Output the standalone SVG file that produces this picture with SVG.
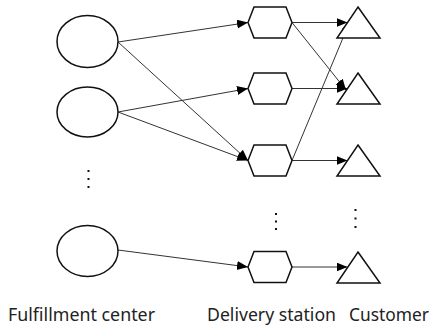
<svg xmlns="http://www.w3.org/2000/svg" width="433" height="328" viewBox="0 0 433 328">
  <style>
    .node { fill: #ffffff; stroke: #111111; stroke-width: 1.5; }
    .edge { fill: none; stroke: #333333; stroke-width: 1; marker-end: url(#arrow); }
    .dot { fill: #111111; }
    .label { font-family: "Noto Sans", "Liberation Sans", sans-serif; font-size: 18px; fill: #222222; }
  </style>
  <defs>
    <marker id="arrow" markerUnits="userSpaceOnUse" markerWidth="12" markerHeight="10" refX="11" refY="4.5" orient="auto">
      <path d="M0,0 L11,4.5 L0,9 Z" fill="#000000"/>
    </marker>
    <polygon id="hex" points="-22,0 -16,-15.5 16,-15.5 22,0 16,15.5 -16,15.5"/>
    <polygon id="tri" points="0,-15.5 22,15.5 -21,15.5"/>
  </defs>

  <!-- connectors -->
  <g id="connectors">
    <line class="edge" x1="118" y1="42" x2="248" y2="22.5"/>
    <line class="edge" x1="118" y1="42" x2="248" y2="160.5"/>
    <line class="edge" x1="118" y1="112" x2="248" y2="88.5"/>
    <line class="edge" x1="118" y1="112" x2="248" y2="160.5"/>
    <line class="edge" x1="118" y1="250" x2="248" y2="267"/>
    <line class="edge" x1="292" y1="22.5" x2="347.5" y2="22.5"/>
    <line class="edge" x1="292" y1="22.5" x2="346" y2="90"/>
    <line class="edge" x1="292" y1="88.5" x2="347.5" y2="88.5"/>
    <line class="edge" x1="292" y1="160.5" x2="350" y2="21"/>
    <line class="edge" x1="292" y1="160.5" x2="347.5" y2="160.5"/>
    <line class="edge" x1="292" y1="267" x2="347.5" y2="267"/>
  </g>

  <!-- fulfillment centers -->
  <g id="fc1"><ellipse class="node" cx="87.5" cy="41.5" rx="30.5" ry="26"/></g>
  <g id="fc2"><ellipse class="node" cx="87.5" cy="112" rx="30.5" ry="25"/></g>
  <g id="fc3"><ellipse class="node" cx="87.5" cy="251" rx="30.5" ry="25.5"/></g>

  <!-- delivery stations -->
  <g id="ds1"><use href="#hex" class="node" x="270" y="22.5"/></g>
  <g id="ds2"><use href="#hex" class="node" x="270" y="88.5"/></g>
  <g id="ds3"><use href="#hex" class="node" x="270" y="160.5"/></g>
  <g id="ds4"><use href="#hex" class="node" x="270" y="267"/></g>

  <!-- customers -->
  <g id="c1"><use href="#tri" class="node" x="358" y="22.5"/></g>
  <g id="c2"><use href="#tri" class="node" x="358" y="88.5"/></g>
  <g id="c3"><use href="#tri" class="node" x="358" y="160.5"/></g>
  <g id="c4"><use href="#tri" class="node" x="358" y="267.5"/></g>

  <!-- ellipsis marks -->
  <g id="more">
    <rect class="dot" x="87.5" y="170" width="2" height="2"/>
    <rect class="dot" x="87.5" y="178" width="2" height="2"/>
    <rect class="dot" x="87.5" y="186" width="2" height="2"/>
    <rect class="dot" x="275" y="213" width="2" height="2"/>
    <rect class="dot" x="275" y="220.5" width="2" height="2"/>
    <rect class="dot" x="275" y="228" width="2" height="2"/>
    <rect class="dot" x="354.5" y="209" width="2" height="2"/>
    <rect class="dot" x="354.5" y="217.5" width="2" height="2"/>
    <rect class="dot" x="354.5" y="226" width="2" height="2"/>
  </g>

  <!-- column labels -->
  <g id="labels">
    <text class="label" x="8" y="321" textLength="147" lengthAdjust="spacingAndGlyphs">Fulfillment center</text>
    <text class="label" x="207" y="321" textLength="129" lengthAdjust="spacingAndGlyphs">Delivery station</text>
    <text class="label" x="349" y="321" textLength="80" lengthAdjust="spacingAndGlyphs">Customer</text>
  </g>
</svg>
